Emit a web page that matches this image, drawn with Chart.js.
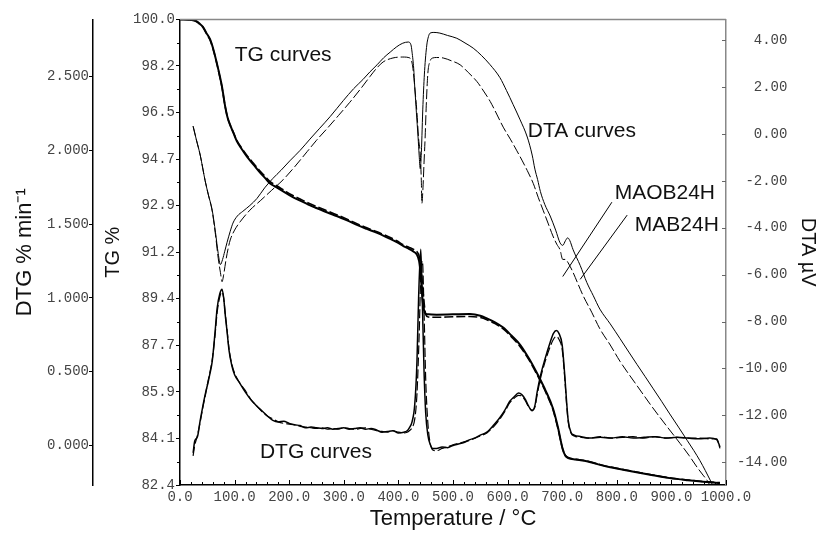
<!DOCTYPE html>
<html><head><meta charset="utf-8">
<script src="https://cdn.jsdelivr.net/npm/chart.js@4.4.1/dist/chart.umd.min.js"></script>
<style>html,body{margin:0;padding:0;background:#fff}</style>
</head><body>
<canvas id="c" width="822" height="534"></canvas>
<script>
// ---------- DATA ----------
// TG curves (% mass), temperature in °C
const tgSolidT = [0,20,30,37,42,48,55,62,68,73,77,82,87,92,98,104,113,123,135,147,156,165,177,189,205,220,235,251,270,288,306,324,342,361,380,397,410,420,428,434,438,441,443,446,449,455,470,500,531,550,562,577,592,607,623,640,657,670,683,692,701,706,711,725,745,766,788,826,866,897,930,965,989];
const tgSolid  = [100.0,99.98,99.93,99.82,99.72,99.5,99.25,98.8,98.3,97.85,97.45,96.8,96.3,96.0,95.7,95.4,95.1,94.8,94.5,94.2,94.0,93.8,93.65,93.5,93.3,93.15,93.0,92.86,92.7,92.56,92.4,92.23,92.08,91.93,91.75,91.58,91.42,91.32,91.22,91.1,90.85,90.3,89.7,89.1,88.9,88.85,88.84,88.85,88.86,88.8,88.7,88.55,88.35,88.05,87.7,87.15,86.5,85.95,85.3,84.6,83.75,83.5,83.42,83.36,83.3,83.18,83.07,82.92,82.77,82.66,82.58,82.51,82.48];
const tgDashT  = [0,20,30,37,42,48,55,62,68,73,77,82,87,92,98,104,113,123,135,147,156,165,177,189,205,220,235,251,270,288,306,324,342,361,380,397,410,420,428,434,438,441,444,447,450,455,470,500,531,550,562,577,592,607,623,640,657,670,683,692,701,706,711,725,745,766,788,826,866,897,930,965,989];
const tgDash   = [100.0,99.98,99.92,99.8,99.7,99.48,99.22,98.78,98.28,97.82,97.42,96.78,96.3,96.0,95.72,95.43,95.14,94.85,94.55,94.26,94.06,93.87,93.71,93.56,93.36,93.21,93.06,92.92,92.76,92.61,92.45,92.28,92.12,91.97,91.8,91.63,91.47,91.38,91.3,91.22,91.05,90.7,90.0,89.3,88.85,88.75,88.74,88.76,88.77,88.73,88.65,88.5,88.3,88.0,87.63,87.1,86.45,85.9,85.25,84.55,83.75,83.52,83.44,83.37,83.31,83.19,83.08,82.93,82.78,82.67,82.59,82.52,82.49];

// DTG curves (% min^-1)
const dtgSolidT = [24,27,32,37,42,47,51,55,59,64,68,73,77,80,83,86,90,95,100,110,120,130,140,150,160,170,180,190,200,210,220,230,240,250,260,270,280,290,300,310,320,330,340,350,360,370,380,390,400,410,416,420,425,430,434,437,441,444,447,450,454,458,463,470,480,490,500,510,520,531,540,550,562,575,586,595,604,612,620,626,633,638,645,650,654,660,668,678,684,689,694,700,705,708,711,716,722,735,750,770,790,810,830,850,870,890,910,930,950,970,983,989];
const dtgSolid  = [-0.05,0.03,0.06,0.17,0.27,0.36,0.42,0.49,0.57,0.76,0.93,1.03,1.06,1.0,0.88,0.78,0.64,0.54,0.48,0.42,0.36,0.31,0.27,0.235,0.2,0.17,0.16,0.165,0.15,0.14,0.135,0.12,0.125,0.12,0.115,0.12,0.11,0.115,0.12,0.11,0.115,0.12,0.11,0.115,0.105,0.09,0.095,0.1,0.085,0.09,0.1,0.12,0.16,0.28,0.57,1.0,1.33,0.95,0.5,0.22,0.07,0.01,-0.02,-0.02,-0.01,-0.015,0.0,0.01,0.02,0.04,0.05,0.07,0.09,0.14,0.19,0.24,0.3,0.33,0.355,0.345,0.31,0.27,0.235,0.27,0.36,0.47,0.58,0.7,0.76,0.78,0.76,0.68,0.46,0.3,0.17,0.09,0.07,0.06,0.05,0.055,0.05,0.06,0.05,0.055,0.06,0.05,0.055,0.05,0.045,0.05,0.04,-0.01];
const dtgDashT  = [24,27,32,37,42,47,51,55,59,64,68,73,77,80,83,86,90,95,100,110,120,130,140,150,160,170,180,190,200,210,220,230,240,250,260,270,280,290,300,310,320,330,340,350,360,370,380,390,400,410,416,420,425,430,434,438,441,444,447,450,454,458,463,470,480,490,500,510,520,531,540,550,562,575,586,595,604,612,620,626,633,638,645,650,654,660,668,678,684,689,694,700,705,708,711,716,722,735,750,770,790,810,830,850,870,890,910,930,950,970,983,989];
const dtgDash   = [-0.07,0.0,0.07,0.16,0.26,0.35,0.43,0.5,0.58,0.74,0.9,1.01,1.04,1.0,0.89,0.79,0.65,0.55,0.49,0.42,0.37,0.31,0.27,0.23,0.2,0.18,0.16,0.15,0.145,0.14,0.13,0.125,0.12,0.115,0.12,0.11,0.115,0.11,0.12,0.115,0.11,0.115,0.12,0.11,0.1,0.095,0.09,0.1,0.09,0.085,0.09,0.1,0.12,0.18,0.35,0.75,1.15,1.25,0.9,0.45,0.15,0.02,-0.03,-0.035,-0.02,-0.01,0.005,0.015,0.025,0.035,0.05,0.065,0.085,0.13,0.18,0.23,0.29,0.32,0.34,0.335,0.3,0.265,0.24,0.26,0.34,0.45,0.56,0.67,0.72,0.74,0.72,0.65,0.44,0.28,0.16,0.085,0.065,0.055,0.05,0.06,0.05,0.055,0.06,0.05,0.06,0.05,0.055,0.05,0.05,0.045,0.045,-0.02];

// DTA curves (µV)
const dtaSolidT = [24,30,37,46,52,59,65,70,74,78,82,86,92,97,105,115,128,141,155,170,185,201,220,238,255,275,299,318,335,348,361,373,385,397,408,418,423,425,428,430,433,436,438,440,442,445,448,452,455,458,465,476,490,507,522,537,552,568,586,598,610,623,636,645,650,655,660,668,678,688,696,701,706,710,714,720,733,745,757,769,788,806,822,837,852,866,882,897,913,929,941,952,962,971,976];
const dtaSolid  = [0.33,-0.25,-0.9,-1.99,-2.6,-3.25,-4.2,-5.1,-5.57,-5.35,-5.0,-4.64,-4.15,-3.8,-3.5,-3.3,-3.05,-2.75,-2.3,-1.9,-1.55,-1.15,-0.7,-0.22,0.22,0.74,1.42,1.93,2.32,2.65,2.95,3.25,3.49,3.72,3.87,3.92,3.8,3.49,2.8,1.98,0.9,-0.13,-0.9,-1.48,-0.8,1.26,2.7,3.79,4.15,4.3,4.33,4.3,4.2,4.08,3.88,3.66,3.35,2.95,2.4,1.85,1.26,0.6,-0.13,-0.9,-1.5,-1.95,-2.45,-3.0,-3.5,-4.1,-4.64,-4.75,-4.55,-4.43,-4.55,-4.94,-5.61,-6.33,-6.9,-7.47,-8.1,-8.73,-9.3,-9.83,-10.35,-10.84,-11.4,-11.94,-12.5,-13.07,-13.5,-13.92,-14.35,-14.76,-15.0];
const dtaDashT  = [24,30,37,46,52,59,65,70,74,77,80,84,88,92,100,110,128,147,168,189,210,233,250,269,290,311,330,348,360,372,390,408,421,426,430,434,437,440,442,443,445,447,449,451,454,458,463,470,482,497,513,528,544,556,568,580,592,605,617,627,636,647,656,665,674,683,690,696,701,706,711,720,729,738,754,769,788,806,836,866,891,916,932,947,958,965,971];
const dtaDash   = [0.33,-0.25,-0.9,-1.99,-2.6,-3.3,-4.3,-5.3,-5.9,-6.3,-6.0,-5.4,-4.9,-4.52,-4.1,-3.75,-3.25,-2.85,-2.4,-1.95,-1.4,-0.75,-0.27,0.22,0.78,1.35,1.9,2.45,2.8,3.07,3.24,3.28,3.24,2.9,1.98,0.9,-0.2,-0.85,-2.0,-2.96,-2.3,-1.2,-0.13,1.2,2.6,3.1,3.24,3.26,3.24,3.12,2.95,2.62,2.23,1.83,1.39,0.85,0.29,-0.22,-0.72,-1.15,-1.56,-2.11,-2.7,-3.25,-3.8,-4.35,-4.7,-4.94,-5.35,-5.35,-5.5,-5.91,-6.4,-6.88,-7.6,-8.31,-9.0,-9.7,-10.7,-11.68,-12.45,-13.2,-13.7,-14.21,-14.55,-14.76,-15.0];

// Leader lines of the sample labels (temperature, DTA)
const leaderMAOBT = [791,701];
const leaderMAOB  = [-2.91,-6.08];
const leaderMABT  = [819,733];
const leaderMAB   = [-3.46,-6.2];

// Tick labels
const tempTicks     = [0,100,200,300,400,500,600,700,800,900,1000];
const tgTickValues  = [82.4,84.16,85.92,87.68,89.44,91.2,92.96,94.72,96.48,98.24,100.0];
const tgTickLabels  = ['82.4','84.1','85.9','87.7','89.4','91.2','92.9','94.7','96.5','98.2','100.0'];
const dtgTickValues = [0,0.5,1.0,1.5,2.0,2.5];
const dtgTickLabels = ['0.000','0.500','1.000','1.500','2.000','2.500'];
const dtaTickValues = [-14,-12,-10,-8,-6,-4,-2,0,2,4];
const dtaTickLabels = ['-14.00','-12.00','-10.00','-8.00','-6.00','-4.00','-2.00','0.00','2.00','4.00'];

// ---------- chart ----------
const pts = (t, v) => t.map((x, i) => ({x, y: v[i]}));
const monoFont = {family: 'Liberation Mono', size: 14};
const titleFont = {family: 'Liberation Sans', size: 22};
const smallTitleFont = {family: 'Liberation Sans', size: 20};
const tickColor = '#444';

const notes = [
  {text: 'TG curves',  t: 189, v: 3.37},
  {text: 'DTA curves', t: 736, v: 0.12},
  {text: 'DTG curves', t: 249, v: -13.58},
  {text: 'MAOB24H',    t: 888, v: -2.53},
  {text: 'MAB24H',     t: 910, v: -3.88}
];

const decor = {
  id: 'decor',
  afterDraw(chart) {
    const ctx = chart.ctx, a = chart.chartArea;
    const xs = chart.scales.x, tg = chart.scales.yTG, dta = chart.scales.yDTA;
    ctx.save();
    // top frame
    ctx.strokeStyle = '#888'; ctx.lineWidth = 1.5;
    ctx.beginPath(); ctx.moveTo(a.left, a.top); ctx.lineTo(a.right, a.top); ctx.stroke();
    ctx.strokeStyle = '#000'; ctx.lineWidth = 1;
    // x ticks pointing inward, minor every 20 °C
    for (let t = 0; t <= 1000; t += 20) {
      const px = Math.round(xs.getPixelForValue(t)) + 0.5;
      const len = t % 100 === 0 ? 5 : 3;
      ctx.beginPath(); ctx.moveTo(px, a.bottom); ctx.lineTo(px, a.bottom - len); ctx.stroke();
    }
    // TG minor ticks (outward)
    for (let i = 0; i < tgTickValues.length - 1; i++) {
      const py = Math.round(tg.getPixelForValue((tgTickValues[i] + tgTickValues[i + 1]) / 2)) + 0.5;
      ctx.beginPath(); ctx.moveTo(a.left, py); ctx.lineTo(a.left - 3, py); ctx.stroke();
    }
    // DTA ticks (inward)
    ctx.strokeStyle = '#666';
    dtaTickValues.forEach(v => {
      const py = Math.round(dta.getPixelForValue(v)) + 0.5;
      ctx.beginPath(); ctx.moveTo(a.right, py); ctx.lineTo(a.right - 4, py); ctx.stroke();
    });
    // annotations
    ctx.fillStyle = '#111';
    ctx.font = '21px "Liberation Sans"';
    ctx.textAlign = 'center'; ctx.textBaseline = 'middle';
    notes.forEach(n => ctx.fillText(n.text, xs.getPixelForValue(n.t), dta.getPixelForValue(n.v)));
    ctx.restore();
  }
};

const line = (label, data, axis, width, dash) => ({
  label, data, yAxisID: axis, borderColor: '#000', borderWidth: width,
  borderDash: dash || [], pointRadius: 0, fill: false,
  cubicInterpolationMode: 'monotone'
});

new Chart(document.getElementById('c'), {
  type: 'line',
  data: {
    datasets: [
      line('TG MAOB24H', pts(tgSolidT, tgSolid), 'yTG', 2),
      line('TG MAB24H', pts(tgDashT, tgDash), 'yTG', 1.6, [9, 3]),
      line('DTG MAOB24H', pts(dtgSolidT, dtgSolid), 'yDTG', 1.5),
      line('DTG MAB24H', pts(dtgDashT, dtgDash), 'yDTG', 1.2, [9, 3]),
      line('DTA MAOB24H', pts(dtaSolidT, dtaSolid), 'yDTA', 1),
      line('DTA MAB24H', pts(dtaDashT, dtaDash), 'yDTA', 1, [10, 3]),
      line('leader MAOB24H', pts(leaderMAOBT, leaderMAOB), 'yDTA', 1),
      line('leader MAB24H', pts(leaderMABT, leaderMAB), 'yDTA', 1)
    ]
  },
  options: {
    responsive: false, animation: false, devicePixelRatio: 1,
    layout: {padding: {top: 14, left: 0, right: 0, bottom: 0}},
    plugins: {legend: {display: false}, tooltip: {enabled: false}},
    scales: {
      x: {
        type: 'linear', position: 'bottom', min: 0, max: 1000,
        afterBuildTicks: s => { s.ticks = tempTicks.map(v => ({value: v})); },
        afterFit: s => { s.height = 49; },
        ticks: {autoSkip: false, maxRotation: 0, padding: 4, font: monoFont, color: tickColor,
                callback: v => Number(v).toFixed(1)},
        grid: {drawOnChartArea: false, drawTicks: false},
        border: {color: '#000', width: 1.5},
        title: {display: true, text: 'Temperature / °C', font: titleFont, color: '#111', padding: {top: 0, bottom: 2}}
      },
      yTG: {
        type: 'linear', position: 'left', weight: 0, min: 82.4, max: 100,
        afterBuildTicks: s => { s.ticks = tgTickValues.map(v => ({value: v})); },
        afterFit: s => { s.width = 87; },
        ticks: {autoSkip: false, padding: 1, font: monoFont, color: tickColor,
                callback: (v, i) => tgTickLabels[i]},
        grid: {drawOnChartArea: false, tickLength: 4, tickColor: '#000'},
        border: {color: '#000', width: 1.5},
        title: {display: true, text: 'TG %', font: smallTitleFont, color: '#111', padding: {top: 8, bottom: 0}}
      },
      yDTG: {
        type: 'linear', position: 'left', weight: 1, min: -0.268, max: 2.889,
        afterBuildTicks: s => { s.ticks = dtgTickValues.map(v => ({value: v})); },
        afterFit: s => { s.width = 93; },
        ticks: {autoSkip: false, padding: 0, font: monoFont, color: tickColor,
                callback: (v, i) => dtgTickLabels[i]},
        grid: {drawOnChartArea: false, tickLength: 4, tickColor: '#000'},
        border: {color: '#000', width: 1.5},
        title: {display: true, text: 'DTG % min⁻¹', font: titleFont, color: '#111', padding: {top: 12, bottom: 0}}
      },
      yDTA: {
        type: 'linear', position: 'right', min: -14.97, max: 4.885,
        afterBuildTicks: s => { s.ticks = dtaTickValues.map(v => ({value: v})); },
        afterFit: s => { s.width = 96; },
        ticks: {autoSkip: false, padding: 11, font: monoFont, color: tickColor,
                callback: (v, i) => dtaTickLabels[i].padStart(6, ' ')},
        grid: {drawOnChartArea: false, drawTicks: false},
        border: {color: '#888', width: 1.5},
        title: {display: true, text: 'DTA µV', font: smallTitleFont, color: '#111', padding: {top: 2, bottom: 0}}
      }
    }
  },
  plugins: [decor]
});
</script>
</body></html>
